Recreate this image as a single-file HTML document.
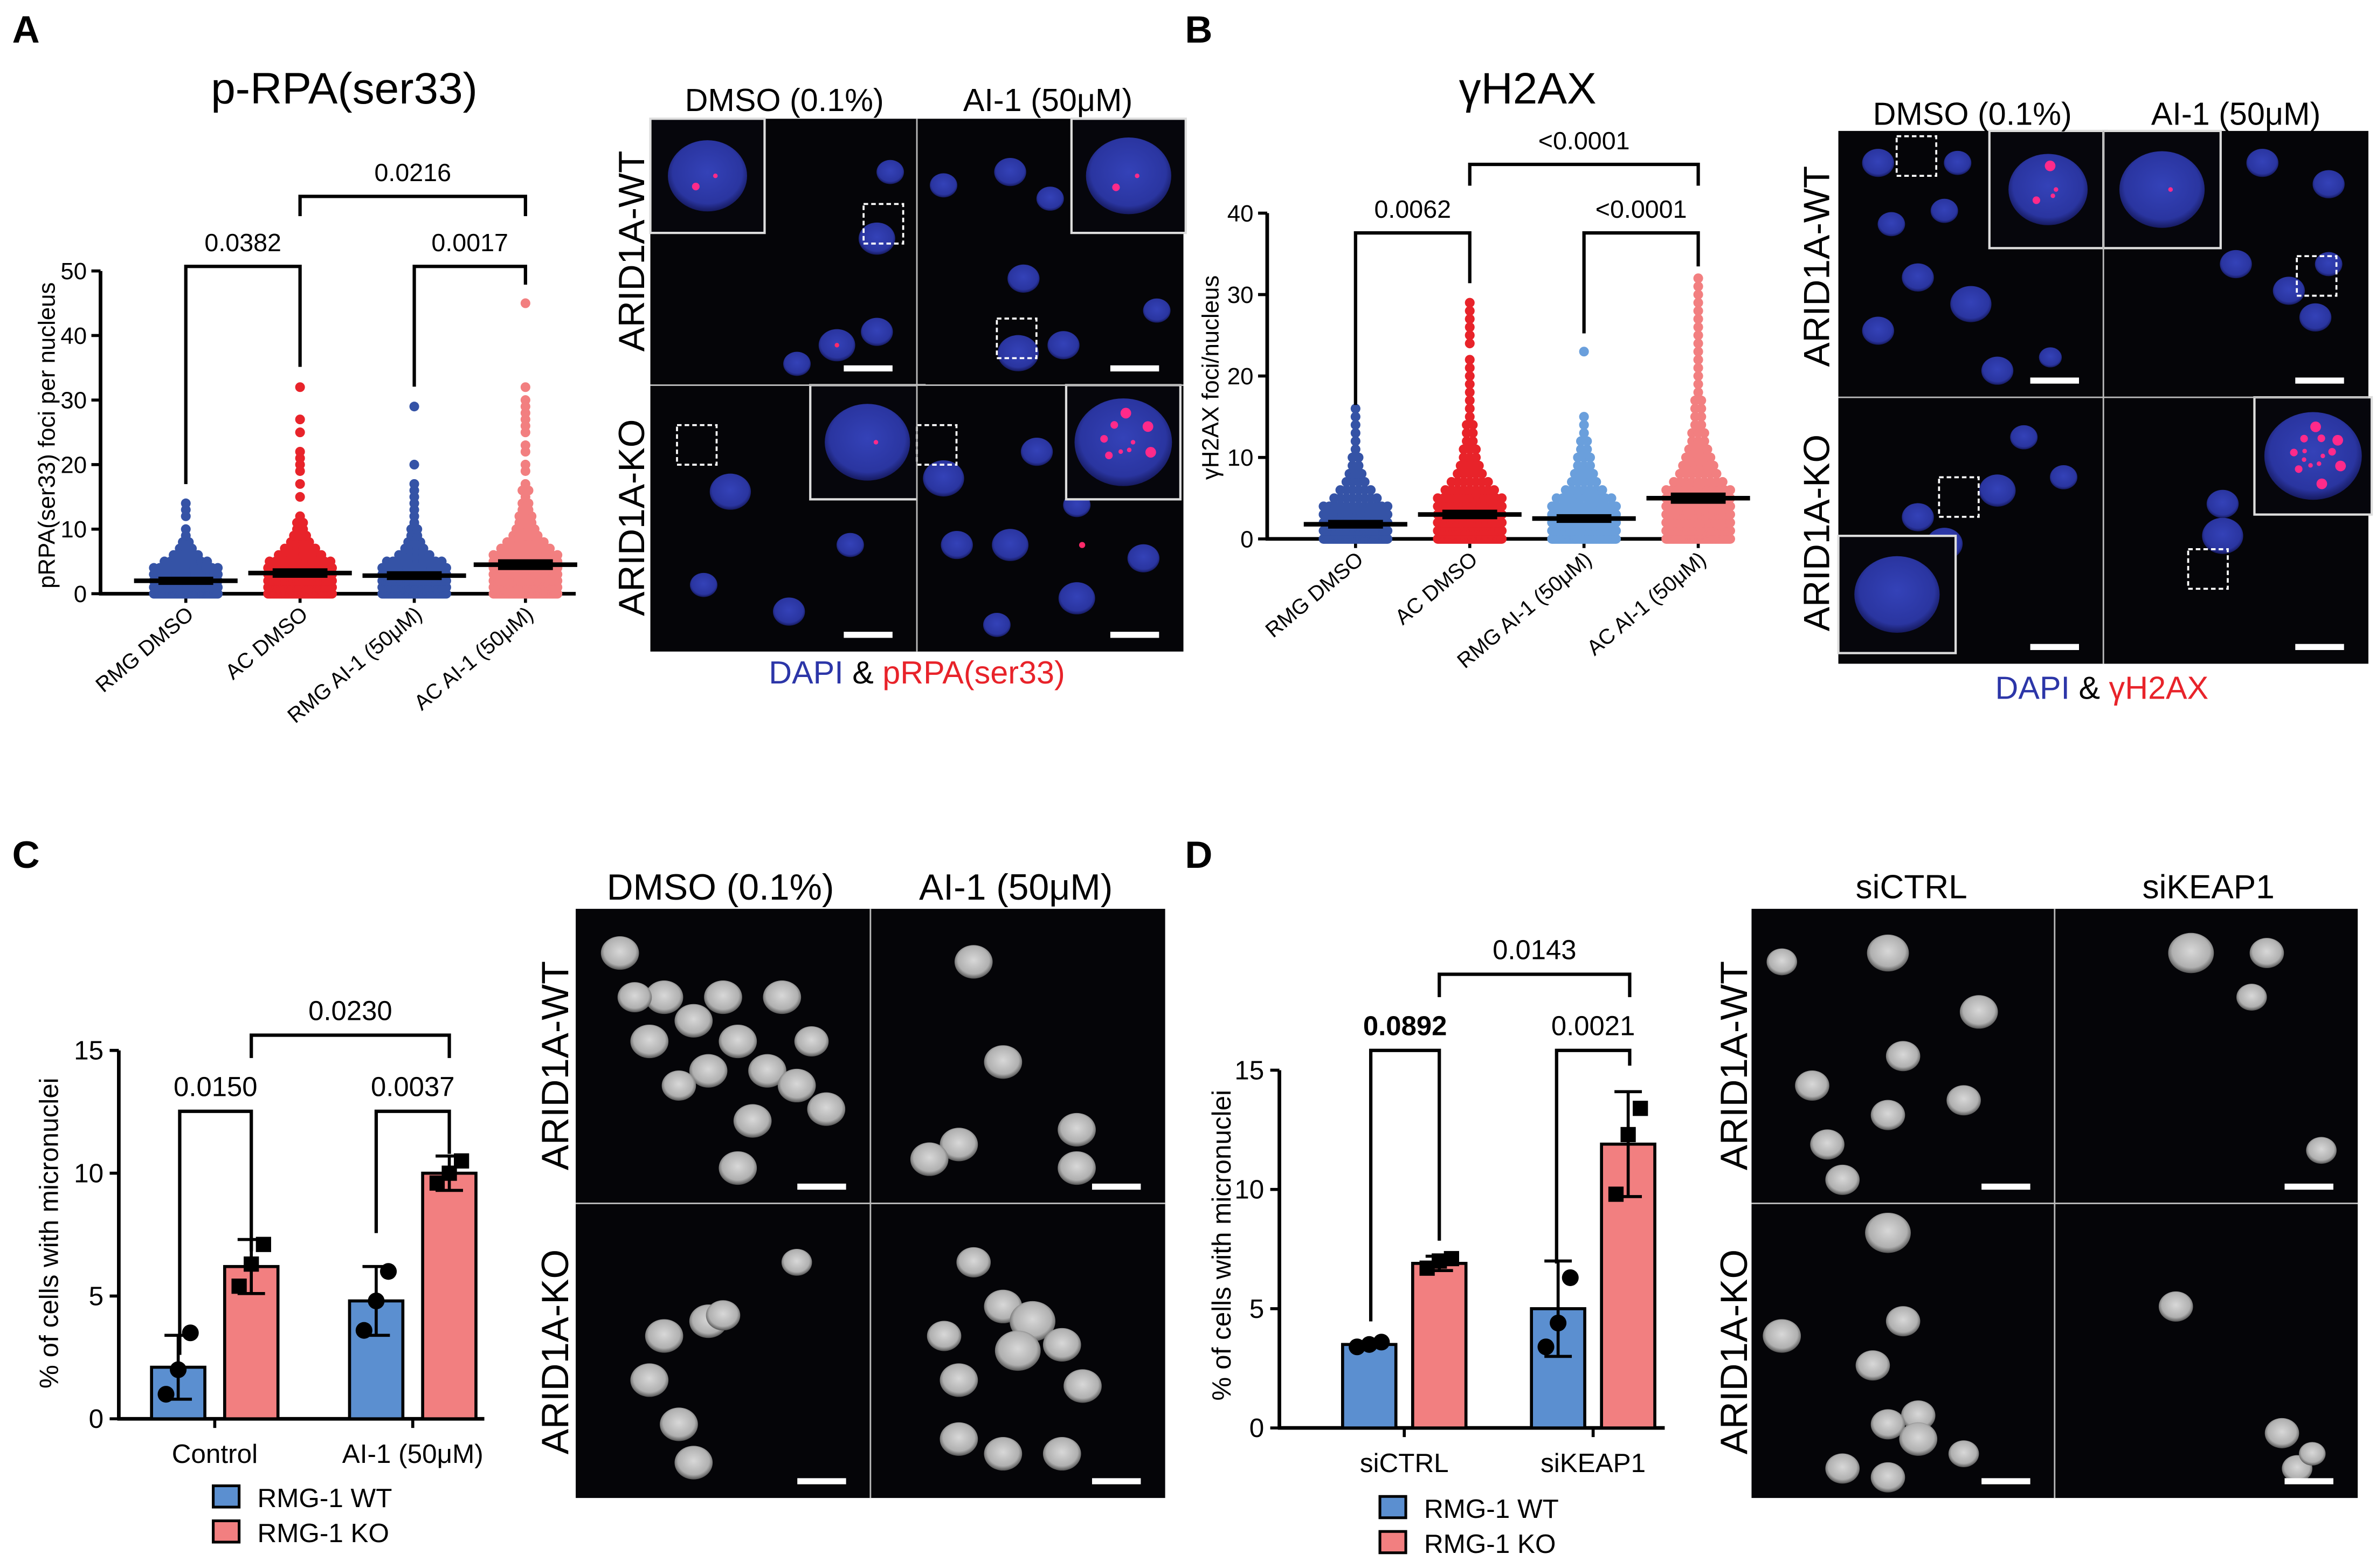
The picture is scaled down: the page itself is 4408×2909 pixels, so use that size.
<!DOCTYPE html>
<html><head><meta charset="utf-8"><style>
html,body{margin:0;padding:0;background:#fff}
svg{display:block}
text{font-family:"Liberation Sans",Arial,sans-serif}
</style></head><body>
<svg id="fig" xmlns="http://www.w3.org/2000/svg" width="4408" height="2909" viewBox="0 0 1560 1030" preserveAspectRatio="none">
<defs>
<radialGradient id="gb" cx="50%" cy="45%" r="55%"><stop offset="0" stop-color="#3442b8"/><stop offset="0.8" stop-color="#2a35a0"/><stop offset="1" stop-color="#161a60"/></radialGradient>
<radialGradient id="gw" cx="50%" cy="45%" r="55%"><stop offset="0" stop-color="#d8d8d8"/><stop offset="0.75" stop-color="#b0b0b0"/><stop offset="1" stop-color="#555"/></radialGradient>
</defs>
<g id="static">
<text x="8" y="28" font-size="25" font-weight="bold">A</text>
<text x="778" y="28" font-size="25" font-weight="bold">B</text>
<text x="8" y="570" font-size="25" font-weight="bold">C</text>
<text x="778" y="570" font-size="25" font-weight="bold">D</text>
<text x="226" y="68" font-size="29" text-anchor="middle">p-RPA(ser33)</text>
<text x="1003" y="68" font-size="29" text-anchor="middle">γH2AX</text>
<text transform="translate(36,286) rotate(-90)" font-size="15.5" text-anchor="middle">pRPA(ser33) foci per nucleus</text>
<text transform="translate(800,248) rotate(-90)" font-size="15.5" text-anchor="middle">γH2AX foci/nucleus</text>
<text transform="translate(38,810) rotate(-90)" font-size="17.5" text-anchor="middle">% of cells with micronuclei</text>
<text transform="translate(808,818) rotate(-90)" font-size="17.5" text-anchor="middle">% of cells with micronuclei</text>
</g>
<g id="charts"></g>
<g id="images"></g>
</svg>
<script>
// ===== Data =====
const catsA = ['RMG DMSO','AC DMSO','RMG AI-1 (50μM)','AC AI-1 (50μM)'];
const countsA_rmgDmso = [60,45,30,18,12,8,5,3,2,1,1,0,1,1,1];
const countsA_acDmso  = [60,48,34,24,16,11,8,6,4,3,2,2,1,0,0,1,0,1,0,1,1,1,1,0,0,1,0,1,0,0,0,0,1];
const countsA_rmgAi   = [60,46,32,22,14,10,6,4,3,2,2,1,1,1,1,1,1,1,0,0,1,0,0,0,0,0,0,0,0,1];
const countsA_acAi    = [60,50,40,30,22,16,12,9,7,5,4,3,3,2,2,1,2,1,0,1,1,0,1,1,0,1,1,1,1,1,1,0,1,0,0,0,0,0,0,0,0,0,0,0,0,1];
const meansA = [2.0,3.2,2.8,4.5];
const semA = [0.4,0.5,0.45,0.6];
const ticksA = [0,10,20,30,40,50];
const catsB = ['RMG DMSO','AC DMSO','RMG AI-1 (50μM)','AC AI-1 (50μM)'];
const countsB_rmgDmso = [60,45,30,18,12,8,6,4,3,2,2,1,1,1,1,1,1];
const countsB_acDmso  = [60,48,34,24,16,12,9,7,5,4,3,3,2,2,2,1,1,1,1,1,1,1,1,0,1,1,1,1,1,1];
const countsB_rmgAi   = [60,46,32,22,14,10,7,5,4,3,3,2,2,1,1,1,0,0,0,0,0,0,0,1];
const countsB_acAi    = [60,50,40,30,22,16,12,9,7,6,5,4,3,3,2,2,2,2,1,1,1,1,1,1,1,1,1,1,1,1,1,1,1];
const meansB = [1.8,3.0,2.5,5.0];
const semB = [0.35,0.4,0.35,0.5];
const ticksB = [0,10,20,30,40];
const catsC = ['Control','AI-1 (50μM)'];
const wtC = [2.1,4.8];
const koC = [6.2,10.0];
const wtSdC = [1.3,1.4];
const koSdC = [1.1,0.7];
const wtPtsC = [[1.0,2.0,3.5],[3.6,4.8,6.0]];
const koPtsC = [[5.4,6.3,7.1],[9.6,10.0,10.5]];
const ticksC = [0,5,10,15];
const catsD = ['siCTRL','siKEAP1'];
const wtD = [3.5,5.0];
const koD = [6.9,11.9];
const wtSdD = [0.1,2.0];
const koSdD = [0.3,2.2];
const wtPtsD = [[3.4,3.5,3.6],[3.4,4.4,6.3]];
const koPtsD = [[6.7,7.0,7.1],[9.8,12.3,13.4]];
const ticksD = [0,5,10,15];

const NS='http://www.w3.org/2000/svg';
const charts=document.getElementById('charts');
function mk(tag,attrs,parent){const e=document.createElementNS(NS,tag);for(const k in attrs)e.setAttribute(k,attrs[k]);(parent||charts).appendChild(e);return e;}

function scatterChart(cfg){
  const g=mk('g',{});
  
  
  const y=v=>cfg.y0-v*(cfg.y0-cfg.yTop)/(cfg.ticks[cfg.ticks.length-1]);
  const ya=mk('line',{x1:cfg.ax,y1:y(cfg.ticks[cfg.ticks.length-1]),x2:cfg.ax,y2:cfg.y0+1,stroke:'#000','stroke-width':2.4},g);
  
  
  const xa=mk('line',{x1:cfg.ax-1,y1:cfg.y0,x2:cfg.xEnd,y2:cfg.y0,stroke:'#000','stroke-width':2.4},g);
  
  
  cfg.ticks.forEach(t=>{
    const tl=mk('line',{x1:cfg.ax-6,y1:y(t),x2:cfg.ax,y2:y(t),stroke:'#000','stroke-width':2},g);
    
    
    const tx=mk('text',{x:cfg.ax-9,y:y(t)+5.5,'font-size':15.5,'text-anchor':'end'},g);
    tx.textContent=t;
    
    
  });
  cfg.series.forEach((counts,i)=>{
    const cx=cfg.xs[i];
    const tk=mk('line',{x1:cx,y1:cfg.y0,x2:cx,y2:cfg.y0+6,stroke:'#000','stroke-width':2},g);
    
    
    counts.forEach((c,k)=>{
      if(!c)return;
      const w=Math.min(42,(c-1)*4);
      for(let j=0;j<c;j++){
        const px=c===1?cx:cx-w/2+w*j/(c-1);
        const d=mk('circle',{cx:px,cy:y(k),r:3.2,fill:cfg.colors[i]},g);
        
        
      }
    });
    const m=cfg.means[i], s=cfg.sems[i];
    const ml=mk('line',{x1:cx-34,y1:y(m),x2:cx+34,y2:y(m),stroke:'#000','stroke-width':3},g);
    
    
    const sr=mk('rect',{x:cx-18,y:y(m+s)-1,width:36,height:Math.max(5,y(m-s)-y(m+s)+2),fill:'#000'},g);
    
    
    const lb=mk('text',{transform:`translate(${cx+6},${cfg.y0+15}) rotate(-40)`,'font-size':14,'text-anchor':'end'},g);
    lb.textContent=cfg.cats[i];
    
    
  });
  cfg.brackets.forEach(b=>bracket(g,cfg.xs[b[0]],cfg.xs[b[1]],b[2],b[3],b[4],b[5],b[6],16.5));
}
function bracket(g,x1,x2,top,l1,l2,label,bold,fs){
  const p=mk('path',{d:`M${x1},${l1}V${top}H${x2}V${l2}`,fill:'none',stroke:'#000','stroke-width':2.2},g);
  
  
  const t=mk('text',{x:(x1+x2)/2,y:top-10,'font-size':fs||17,'text-anchor':'middle','font-weight':bold?'bold':'normal'},g);
  t.textContent=label;
  
  
}
scatterChart({name:'chart-a-scatter',ax:66,y0:390,yTop:178,xEnd:378,ticks:ticksA,xs:[122,197,272,345],
  series:[countsA_rmgDmso,countsA_acDmso,countsA_rmgAi,countsA_acAi],means:meansA,sems:semA,cats:catsA,
  colors:['#3553a6','#e8232a','#3553a6','#f27f80'],
  brackets:[[0,1,175,318,241,'0.0382'],[2,3,175,254,187,'0.0017'],[1,3,129,142,142,'0.0216']]});
scatterChart({name:'chart-b-scatter',ax:832,y0:354,yTop:140,xEnd:1137,ticks:ticksB,xs:[890,965,1040,1115],
  series:[countsB_rmgDmso,countsB_acDmso,countsB_rmgAi,countsB_acAi],means:meansB,sems:semB,cats:catsB,
  colors:['#3553a6','#e8232a','#6a9fdc','#f27f80'],
  brackets:[[0,1,153,266,186,'0.0062'],[2,3,153,219,175,'<0.0001'],[1,3,108,122,122,'<0.0001']]});

function barChart(cfg){
  const g=mk('g',{});
  
  
  const top=cfg.ticks[cfg.ticks.length-1];
  const y=v=>cfg.y0-v*(cfg.y0-cfg.yTop)/top;
  const ya=mk('line',{x1:cfg.ax,y1:y(top),x2:cfg.ax,y2:cfg.y0+1,stroke:'#000','stroke-width':2.4},g);
  
  
  const xa=mk('line',{x1:cfg.ax-1,y1:cfg.y0,x2:cfg.xEnd,y2:cfg.y0,stroke:'#000','stroke-width':2.4},g);
  
  
  cfg.ticks.forEach(t=>{
    const tl=mk('line',{x1:cfg.ax-6,y1:y(t),x2:cfg.ax,y2:y(t),stroke:'#000','stroke-width':2},g);
    
    
    const tx=mk('text',{x:cfg.ax-10,y:y(t)+6,'font-size':17.5,'text-anchor':'end'},g);
    tx.textContent=t;
    
    
  });
  const bw=35;
  cfg.cats.forEach((c,i)=>{
    const xw=cfg.gx[i]-cfg.off, xk=cfg.gx[i]+cfg.off;
    [[xw,cfg.wt[i],cfg.wtSd[i],cfg.wtPts[i],'#5b8fd0','bar-wt',0],[xk,cfg.ko[i],cfg.koSd[i],cfg.koPts[i],'#f27f80','bar-ko',1]].forEach(s=>{
      const [cx,v,sd,pts,col,nm,sq]=s;
      const b=mk('rect',{x:cx-bw/2,y:y(v),width:bw,height:cfg.y0-y(v),fill:col,stroke:'#000','stroke-width':2},g);
      
      
      const e=mk('path',{d:`M${cx},${y(v+sd)}V${y(Math.max(0,v-sd))}M${cx-9},${y(v+sd)}H${cx+9}M${cx-9},${y(Math.max(0,v-sd))}H${cx+9}`,stroke:'#000','stroke-width':2,fill:'none'},g);
      
      
      pts.forEach((p,j)=>{
        const px=cx+(j-1)*8;
        let d;
        if(sq){d=mk('rect',{x:px-5,y:y(p)-5,width:10,height:10,fill:'#000'},g);}
        else{d=mk('circle',{cx:px,cy:y(p),r:5.5,fill:'#000'},g);}
        
        
      });
    });
    const tk=mk('line',{x1:cfg.gx[i],y1:cfg.y0,x2:cfg.gx[i],y2:cfg.y0+6,stroke:'#000','stroke-width':2},g);
    
    
    const lb=mk('text',{x:cfg.gx[i],y:cfg.y0+29,'font-size':17.5,'text-anchor':'middle'},g);
    lb.textContent=c;
    
    
  });
  cfg.brackets.forEach(b=>bracket(g,b[0],b[1],b[2],b[3],b[4],b[5],b[6],18));
  [['RMG-1  WT','#5b8fd0'],['RMG-1 KO','#f27f80']].forEach((l,i)=>{
    const r=mk('rect',{x:cfg.lx,y:cfg.ly+i*23-8,width:17,height:14,fill:l[1],stroke:'#000','stroke-width':1.8},g);
    
    
    const t=mk('text',{x:cfg.lx+29,y:cfg.ly+i*23+6,'font-size':17.5},g);
    t.textContent=l[0];
    
    
  });
}
barChart({name:'chart-c-bars',ax:78,y0:932,yTop:690,xEnd:318,ticks:ticksC,cats:catsC,gx:[141,271],off:24,
  wt:wtC,ko:koC,wtSd:wtSdC,koSd:koSdC,wtPts:wtPtsC,koPts:koPtsC,lx:140,ly:984,
  brackets:[[118,165,730,890,822,'0.0150'],[247,295,730,810,758,'0.0037'],[165,295,680,695,695,'0.0230']]});
barChart({name:'chart-d-bars',ax:840,y0:938,yTop:703,xEnd:1093,ticks:ticksD,cats:catsD,gx:[922,1046],off:23,
  wt:wtD,ko:koD,wtSd:wtSdD,koSd:koSdD,wtPts:wtPtsD,koPts:koPtsD,lx:906,ly:991,
  brackets:[[900,945,690,868,815,'0.0892',true],[1022,1070,690,830,700,'0.0021'],[945,1070,640,655,655,'0.0143']]});

// ===== Micrographs =====
const imgs=document.getElementById('images');
function tile(name,x,y,w,h,grad,nuclei,foci,insetCfg,dashCfg,sc){
  const g=mk('g',{},imgs);
  
  
  mk('rect',{x,y,width:w,height:h,fill:'#050508'},g);
  nuclei.forEach(n=>mk('ellipse',{cx:x+n[0]*w,cy:y+n[1]*h,rx:n[2]*sc,ry:(n[3]||n[2]*0.88)*sc,fill:`url(#${grad})`},g));
  (foci||[]).forEach(f=>mk('circle',{cx:x+f[0]*w,cy:y+f[1]*h,r:f[2]||1.5,fill:'#ff2a6a'},g));
  if(dashCfg)mk('rect',{x:x+dashCfg[0]*w,y:y+dashCfg[1]*h,width:dashCfg[2],height:dashCfg[2],fill:'none',stroke:'#fff','stroke-width':1.3,'stroke-dasharray':'3 2'},g);
  if(insetCfg){
    const [ix,iy,s,r,fc]=insetCfg;
    mk('rect',{x:x+ix*w,y:y+iy*h,width:s,height:s,fill:'#06060c',stroke:'#ddd','stroke-width':1.5},g);
    mk('ellipse',{cx:x+ix*w+s/2,cy:y+iy*h+s/2,rx:r,ry:r*0.9,fill:`url(#${grad})`},g);
    for(let i=0;i<fc;i++){mk('circle',{cx:x+ix*w+s/2+Math.cos(i*2.4)*r*0.6*((i%3+1)/3),cy:y+iy*h+s/2+Math.sin(i*2.4)*r*0.6*((i%3+1)/3),r:1.5+(i%3),fill:'#ff2a8a'},g);}
  }
  mk('rect',{x:x+w-48,y:y+h-13,width:32,height:4,fill:'#fff'},g);
}
function grid(name,x,y,w,h,grad,sc,tiles){
  const tw=w/2, th=h/2;
  tiles.forEach((t,i)=>tile(name+'-'+['wt-ctrl','wt-treat','ko-ctrl','ko-treat'][i],x+(i%2)*tw,y+Math.floor(i/2)*th,tw,th,grad,t.n,t.f,t.i,t.d,sc));
  mk('line',{x1:x+tw,y1:y,x2:x+tw,y2:y+h,stroke:'#bbb','stroke-width':1},imgs);
  mk('line',{x1:x,y1:y+th,x2:x+w,y2:y+th,stroke:'#bbb','stroke-width':1},imgs);
}
grid('micrograph-a',427,78,350,350,'gb',1.5,[
  {n:[[0.85,0.45,8],[0.7,0.85,8],[0.85,0.8,7],[0.55,0.92,6],[0.9,0.2,6]],f:[[0.7,0.85,1.5]],i:[0,0,75,26,2],d:[0.8,0.32,26]},
  {n:[[0.35,0.2,7],[0.5,0.3,6],[0.4,0.6,7],[0.38,0.88,9],[0.55,0.85,7],[0.9,0.72,6],[0.1,0.25,6]],f:[],i:[0.58,0,75,28,2],d:[0.3,0.75,26]},
  {n:[[0.3,0.4,9],[0.52,0.85,7],[0.2,0.75,6],[0.75,0.6,6]],f:[],i:[0.6,0,75,28,1],d:[0.1,0.15,26]},
  {n:[[0.1,0.35,9],[0.45,0.25,7],[0.35,0.6,8],[0.6,0.8,8],[0.85,0.65,7],[0.3,0.9,6],[0.6,0.45,6],[0.15,0.6,7]],f:[[0.62,0.6,2]],i:[0.56,0,75,32,9],d:[0,0.15,26]}]);
grid('micrograph-b',1207,86,348,350,'gb',1.5,[
  {n:[[0.15,0.12,7],[0.3,0.55,7],[0.15,0.75,7],[0.5,0.65,9],[0.6,0.9,7],[0.4,0.3,6],[0.8,0.85,5],[0.2,0.35,6],[0.45,0.12,6]],f:[],i:[0.57,0,77,26,4],d:[0.22,0.02,26]},
  {n:[[0.6,0.12,7],[0.85,0.2,7],[0.5,0.5,7],[0.7,0.6,7],[0.85,0.5,6],[0.8,0.7,7]],f:[],i:[0,0,77,28,1],d:[0.73,0.47,26]},
  {n:[[0.6,0.35,8],[0.85,0.3,6],[0.7,0.15,6],[0.3,0.45,7],[0.4,0.55,8]],f:[],i:[0,0.52,77,28,0],d:[0.38,0.3,26]},
  {n:[[0.45,0.52,9],[0.45,0.4,7]],f:[],i:[0.57,0,77,32,14],d:[0.32,0.57,26]}]);
const grayTiles=(a,b,c,d)=>[{n:a},{n:b},{n:c},{n:d}];
grid('micrograph-c',378,597,387,387,'gw',1.25,grayTiles(
  [[0.15,0.15,10],[0.3,0.3,10],[0.4,0.38,10],[0.5,0.3,10],[0.55,0.45,10],[0.65,0.55,10],[0.45,0.55,10],[0.6,0.72,10],[0.75,0.6,10],[0.85,0.68,10],[0.55,0.88,10],[0.25,0.45,10],[0.7,0.3,10],[0.35,0.6,9],[0.2,0.3,9],[0.8,0.45,9]],
  [[0.35,0.18,10],[0.45,0.52,10],[0.3,0.8,10],[0.2,0.85,10],[0.7,0.75,10],[0.7,0.88,10]],
  [[0.3,0.45,10],[0.45,0.4,10],[0.5,0.38,9],[0.25,0.6,10],[0.35,0.75,10],[0.4,0.88,10],[0.75,0.2,8]],
  [[0.35,0.2,9],[0.45,0.35,10],[0.55,0.4,12],[0.5,0.5,12],[0.65,0.48,10],[0.3,0.6,10],[0.72,0.62,10],[0.3,0.8,10],[0.45,0.85,10],[0.65,0.85,10],[0.25,0.45,9]]));
grid('micrograph-d',1150,597,398,387,'gw',1.25,grayTiles(
  [[0.1,0.18,8],[0.45,0.15,11],[0.75,0.35,10],[0.5,0.5,9],[0.2,0.6,9],[0.45,0.7,9],[0.25,0.8,9],[0.3,0.92,9],[0.7,0.65,9]],
  [[0.45,0.15,12],[0.7,0.15,9],[0.65,0.3,8],[0.88,0.82,8]],
  [[0.45,0.1,12],[0.1,0.45,10],[0.5,0.4,9],[0.4,0.55,9],[0.55,0.72,9],[0.45,0.75,9],[0.55,0.8,10],[0.3,0.9,9],[0.45,0.93,9],[0.7,0.85,8]],
  [[0.4,0.35,9],[0.75,0.78,9],[0.8,0.9,8],[0.85,0.85,7]]));
</script>
<svg style="position:absolute;left:0;top:0" width="4408" height="2909" viewBox="0 0 1560 1030" preserveAspectRatio="none">
<g font-family="Liberation Sans, Arial, sans-serif">
<text x="515" y="73" font-size="21" text-anchor="middle">DMSO (0.1%)</text>
<text x="688" y="73" font-size="21" text-anchor="middle">AI-1 (50μM)</text>
<text transform="translate(423,165) rotate(-90)" font-size="24" text-anchor="middle">ARID1A-WT</text>
<text transform="translate(423,340) rotate(-90)" font-size="24" text-anchor="middle">ARID1A-KO</text>
<text x="602" y="449" font-size="21" text-anchor="middle"><tspan fill="#2c36a8">DAPI</tspan> &amp; <tspan fill="#e8232a">pRPA(ser33)</tspan></text>
<text x="1295" y="82" font-size="21" text-anchor="middle">DMSO (0.1%)</text>
<text x="1468" y="82" font-size="21" text-anchor="middle">AI-1 (50μM)</text>
<text transform="translate(1201,175) rotate(-90)" font-size="24" text-anchor="middle">ARID1A-WT</text>
<text transform="translate(1201,350) rotate(-90)" font-size="24" text-anchor="middle">ARID1A-KO</text>
<text x="1380" y="459" font-size="21" text-anchor="middle"><tspan fill="#2c36a8">DAPI</tspan> &amp; <tspan fill="#e8232a">γH2AX</tspan></text>
<text x="473" y="591" font-size="24" text-anchor="middle">DMSO (0.1%)</text>
<text x="667" y="591" font-size="24" text-anchor="middle">AI-1 (50μM)</text>
<text transform="translate(373,700) rotate(-90)" font-size="25" text-anchor="middle">ARID1A-WT</text>
<text transform="translate(373,888) rotate(-90)" font-size="25" text-anchor="middle">ARID1A-KO</text>
<text x="1255" y="590" font-size="22" text-anchor="middle">siCTRL</text>
<text x="1450" y="590" font-size="22" text-anchor="middle">siKEAP1</text>
<text transform="translate(1147,700) rotate(-90)" font-size="25" text-anchor="middle">ARID1A-WT</text>
<text transform="translate(1147,888) rotate(-90)" font-size="25" text-anchor="middle">ARID1A-KO</text>
</g>
</svg>
</body></html>
